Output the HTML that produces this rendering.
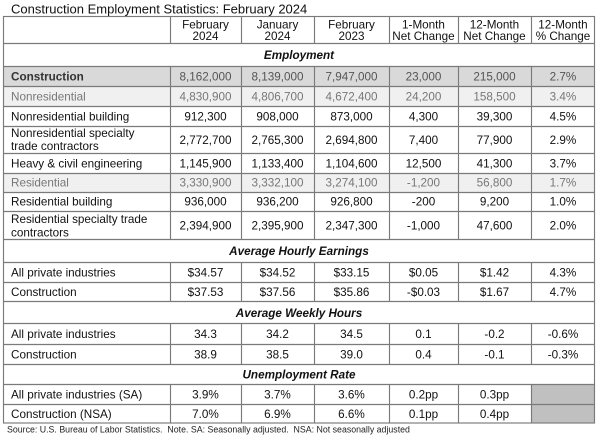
<!DOCTYPE html>
<html><head><meta charset="utf-8"><style>
html,body{margin:0;padding:0;background:#fff;}
svg{display:block;}
text{font-family:"Liberation Sans",Arial,sans-serif;}
</style></head><body>
<svg width="600" height="436" viewBox="0 0 600 436" xmlns="http://www.w3.org/2000/svg">
<text x="11" y="13.5" font-size="13" fill="#111">Construction Employment Statistics: February 2024</text>
<rect x="3" y="66" width="592" height="20" fill="#d9d9d9"/>
<rect x="3" y="86" width="592" height="20" fill="#f0f0f0"/>
<rect x="3" y="173" width="592" height="19" fill="#f0f0f0"/>
<rect x="531" y="384" width="64" height="39" fill="#c0c0c0"/>
<g stroke="#7a7a7a" stroke-width="1.15" fill="none">
<rect x="3.5" y="16.5" width="591" height="406.5"/>
<path d="M3 43.5H595M3 66.5H595M3 86.5H595M3 106.5H595M3 126.5H595M3 153.5H595M3 173.5H595M3 192.5H595M3 211.5H595M3 239.5H595M3 262.5H595M3 282.5H595M3 301.5H595M3 323.5H595M3 344.5H595M3 364.5H595M3 384.5H595M3 404.5H595"/>
<path d="M170.5 16V43M241.5 16V43M314.5 16V43M389.5 16V43M458.5 16V43M531.5 16V43"/>
<path d="M170.5 66V239M241.5 66V239M314.5 66V239M389.5 66V239M458.5 66V239M531.5 66V239"/>
<path d="M170.5 262V301M241.5 262V301M314.5 262V301M389.5 262V301M458.5 262V301M531.5 262V301"/>
<path d="M170.5 323V364M241.5 323V364M314.5 323V364M389.5 323V364M458.5 323V364M531.5 323V364"/>
<path d="M170.5 384V423M241.5 384V423M314.5 384V423M389.5 384V423M458.5 384V423M531.5 384V423"/>
</g>
<g font-size="11.7" fill="#111" text-anchor="middle">
<text x="205.5" y="28.5">February</text><text x="205.5" y="40">2024</text>
<text x="277.5" y="28.5">January</text><text x="277.5" y="40">2024</text>
<text x="351.5" y="28.5">February</text><text x="351.5" y="40">2023</text>
<text x="423.5" y="28.5">1-Month</text><text x="423.5" y="40">Net Change</text>
<text x="494.5" y="28.5">12-Month</text><text x="494.5" y="40">Net Change</text>
<text x="563" y="28.5">12-Month</text><text x="563" y="40">% Change</text>
</g>
<g font-size="11.7" font-weight="bold" font-style="italic" fill="#111" text-anchor="middle">
<text x="299" y="59">Employment</text>
<text x="299" y="255">Average Hourly Earnings</text>
<text x="299" y="317">Average Weekly Hours</text>
<text x="299" y="378.5">Unemployment Rate</text>
</g>
<g font-size="11.7" fill="#111">
<text x="11" y="80.5" font-weight="bold" fill="#333">Construction</text>
<text x="11" y="100.5" fill="#777">Nonresidential</text>
<text x="11" y="120.5">Nonresidential building</text>
<text x="11" y="137">Nonresidential specialty</text>
<text x="11" y="150">trade contractors</text>
<text x="11" y="167.5">Heavy &amp; civil engineering</text>
<text x="11" y="186.5" fill="#777">Residential</text>
<text x="11" y="205.5">Residential building</text>
<text x="11" y="223">Residential specialty trade</text>
<text x="11" y="236.5">contractors</text>
<text x="11" y="276.5">All private industries</text>
<text x="11" y="296">Construction</text>
<text x="11" y="338">All private industries</text>
<text x="11" y="358.5">Construction</text>
<text x="11" y="398.5">All private industries (SA)</text>
<text x="11" y="418">Construction (NSA)</text>
</g>
<g font-size="11.7" text-anchor="middle">
<g fill="#555">
<text x="205.5" y="80.5">8,162,000</text><text x="277.5" y="80.5">8,139,000</text><text x="351.5" y="80.5">7,947,000</text><text x="423.5" y="80.5">23,000</text><text x="494.5" y="80.5">215,000</text><text x="563" y="80.5">2.7%</text>
</g>
<g fill="#777">
<text x="205.5" y="100.5">4,830,900</text><text x="277.5" y="100.5">4,806,700</text><text x="351.5" y="100.5">4,672,400</text><text x="423.5" y="100.5">24,200</text><text x="494.5" y="100.5">158,500</text><text x="563" y="100.5">3.4%</text>
<text x="205.5" y="186.5">3,330,900</text><text x="277.5" y="186.5">3,332,100</text><text x="351.5" y="186.5">3,274,100</text><text x="423.5" y="186.5">-1,200</text><text x="494.5" y="186.5">56,800</text><text x="563" y="186.5">1.7%</text>
</g>
<g fill="#111">
<text x="205.5" y="120.5">912,300</text><text x="277.5" y="120.5">908,000</text><text x="351.5" y="120.5">873,000</text><text x="423.5" y="120.5">4,300</text><text x="494.5" y="120.5">39,300</text><text x="563" y="120.5">4.5%</text>
<text x="205.5" y="144">2,772,700</text><text x="277.5" y="144">2,765,300</text><text x="351.5" y="144">2,694,800</text><text x="423.5" y="144">7,400</text><text x="494.5" y="144">77,900</text><text x="563" y="144">2.9%</text>
<text x="205.5" y="167.5">1,145,900</text><text x="277.5" y="167.5">1,133,400</text><text x="351.5" y="167.5">1,104,600</text><text x="423.5" y="167.5">12,500</text><text x="494.5" y="167.5">41,300</text><text x="563" y="167.5">3.7%</text>
<text x="205.5" y="205.5">936,000</text><text x="277.5" y="205.5">936,200</text><text x="351.5" y="205.5">926,800</text><text x="423.5" y="205.5">-200</text><text x="494.5" y="205.5">9,200</text><text x="563" y="205.5">1.0%</text>
<text x="205.5" y="229.5">2,394,900</text><text x="277.5" y="229.5">2,395,900</text><text x="351.5" y="229.5">2,347,300</text><text x="423.5" y="229.5">-1,000</text><text x="494.5" y="229.5">47,600</text><text x="563" y="229.5">2.0%</text>
<text x="205.5" y="276.5">$34.57</text><text x="277.5" y="276.5">$34.52</text><text x="351.5" y="276.5">$33.15</text><text x="423.5" y="276.5">$0.05</text><text x="494.5" y="276.5">$1.42</text><text x="563" y="276.5">4.3%</text>
<text x="205.5" y="296">$37.53</text><text x="277.5" y="296">$37.56</text><text x="351.5" y="296">$35.86</text><text x="423.5" y="296">-$0.03</text><text x="494.5" y="296">$1.67</text><text x="563" y="296">4.7%</text>
<text x="205.5" y="338">34.3</text><text x="277.5" y="338">34.2</text><text x="351.5" y="338">34.5</text><text x="423.5" y="338">0.1</text><text x="494.5" y="338">-0.2</text><text x="563" y="338">-0.6%</text>
<text x="205.5" y="358.5">38.9</text><text x="277.5" y="358.5">38.5</text><text x="351.5" y="358.5">39.0</text><text x="423.5" y="358.5">0.4</text><text x="494.5" y="358.5">-0.1</text><text x="563" y="358.5">-0.3%</text>
<text x="205.5" y="398.5">3.9%</text><text x="277.5" y="398.5">3.7%</text><text x="351.5" y="398.5">3.6%</text><text x="423.5" y="398.5">0.2pp</text><text x="494.5" y="398.5">0.3pp</text>
<text x="205.5" y="418">7.0%</text><text x="277.5" y="418">6.9%</text><text x="351.5" y="418">6.6%</text><text x="423.5" y="418">0.1pp</text><text x="494.5" y="418">0.4pp</text>
</g>
</g>
<text x="7" y="432.5" font-size="8.8" fill="#222" xml:space="preserve" style="white-space:pre">Source: U.S. Bureau of Labor Statistics.  Note. SA: Seasonally adjusted.  NSA: Not seasonally adjusted</text>
</svg>
</body></html>
